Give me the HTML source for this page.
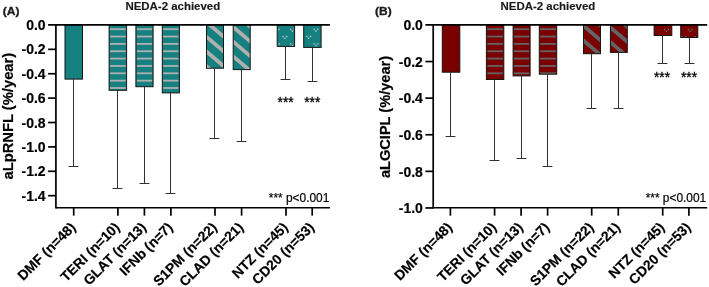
<!DOCTYPE html>
<html><head><meta charset="utf-8"><style>
html,body{margin:0;padding:0;background:#fff;}
svg{display:block;font-family:"Liberation Sans",Arial,sans-serif;}
</style></head><body>
<svg width="709" height="287" viewBox="0 0 709 287">
<rect width="709" height="287" fill="#fff"/>
<clipPath id="ca0"><rect x="65.00" y="24.95" width="17.50" height="54.15"/></clipPath>
<rect x="65.00" y="24.95" width="17.50" height="54.15" fill="#15807f"/>
<g clip-path="url(#ca0)"></g>
<rect x="65.00" y="24.95" width="17.50" height="54.15" fill="none" stroke="#151515" stroke-width="1.0"/>
<path d="M73.50 79.10V166.50M68.60 166.50H78.40" stroke="#303030" stroke-width="1.0" fill="none"/>
<clipPath id="ca1"><rect x="109.10" y="24.95" width="17.50" height="65.35"/></clipPath>
<rect x="109.10" y="24.95" width="17.50" height="65.35" fill="#15807f"/>
<g clip-path="url(#ca1)"><rect x="110.00" y="28.30" width="15.70" height="1.8" fill="#b0b0b0"/><rect x="110.00" y="35.65" width="15.70" height="1.8" fill="#b0b0b0"/><rect x="110.00" y="43.00" width="15.70" height="1.8" fill="#b0b0b0"/><rect x="110.00" y="50.35" width="15.70" height="1.8" fill="#b0b0b0"/><rect x="110.00" y="57.70" width="15.70" height="1.8" fill="#b0b0b0"/><rect x="110.00" y="65.05" width="15.70" height="1.8" fill="#b0b0b0"/><rect x="110.00" y="72.40" width="15.70" height="1.8" fill="#b0b0b0"/><rect x="110.00" y="79.75" width="15.70" height="1.8" fill="#b0b0b0"/><rect x="110.00" y="87.10" width="15.70" height="1.8" fill="#b0b0b0"/></g>
<rect x="109.10" y="24.95" width="17.50" height="65.35" fill="none" stroke="#151515" stroke-width="1.0"/>
<path d="M117.50 90.30V188.50M112.60 188.50H122.40" stroke="#303030" stroke-width="1.0" fill="none"/>
<clipPath id="ca2"><rect x="135.90" y="24.95" width="17.20" height="61.75"/></clipPath>
<rect x="135.90" y="24.95" width="17.20" height="61.75" fill="#15807f"/>
<g clip-path="url(#ca2)"><rect x="136.80" y="28.30" width="15.40" height="1.8" fill="#b0b0b0"/><rect x="136.80" y="35.65" width="15.40" height="1.8" fill="#b0b0b0"/><rect x="136.80" y="43.00" width="15.40" height="1.8" fill="#b0b0b0"/><rect x="136.80" y="50.35" width="15.40" height="1.8" fill="#b0b0b0"/><rect x="136.80" y="57.70" width="15.40" height="1.8" fill="#b0b0b0"/><rect x="136.80" y="65.05" width="15.40" height="1.8" fill="#b0b0b0"/><rect x="136.80" y="72.40" width="15.40" height="1.8" fill="#b0b0b0"/><rect x="136.80" y="79.75" width="15.40" height="1.8" fill="#b0b0b0"/></g>
<rect x="135.90" y="24.95" width="17.20" height="61.75" fill="none" stroke="#151515" stroke-width="1.0"/>
<path d="M144.50 86.70V183.50M139.60 183.50H149.40" stroke="#303030" stroke-width="1.0" fill="none"/>
<clipPath id="ca3"><rect x="162.30" y="24.95" width="17.10" height="67.95"/></clipPath>
<rect x="162.30" y="24.95" width="17.10" height="67.95" fill="#15807f"/>
<g clip-path="url(#ca3)"><rect x="163.20" y="28.30" width="15.30" height="1.8" fill="#b0b0b0"/><rect x="163.20" y="35.65" width="15.30" height="1.8" fill="#b0b0b0"/><rect x="163.20" y="43.00" width="15.30" height="1.8" fill="#b0b0b0"/><rect x="163.20" y="50.35" width="15.30" height="1.8" fill="#b0b0b0"/><rect x="163.20" y="57.70" width="15.30" height="1.8" fill="#b0b0b0"/><rect x="163.20" y="65.05" width="15.30" height="1.8" fill="#b0b0b0"/><rect x="163.20" y="72.40" width="15.30" height="1.8" fill="#b0b0b0"/><rect x="163.20" y="79.75" width="15.30" height="1.8" fill="#b0b0b0"/><rect x="163.20" y="87.10" width="15.30" height="1.8" fill="#b0b0b0"/></g>
<rect x="162.30" y="24.95" width="17.10" height="67.95" fill="none" stroke="#151515" stroke-width="1.0"/>
<path d="M170.50 92.90V193.50M165.60 193.50H175.40" stroke="#303030" stroke-width="1.0" fill="none"/>
<clipPath id="ca4"><rect x="206.50" y="24.95" width="17.00" height="43.25"/></clipPath>
<rect x="206.50" y="24.95" width="17.00" height="43.25" fill="#15807f"/>
<g clip-path="url(#ca4)"><polygon points="206.50,-24.40 223.50,-9.95 223.50,-5.05 206.50,-19.50" fill="#b0b0b0"/><polygon points="206.50,-9.70 223.50,4.75 223.50,9.65 206.50,-4.80" fill="#b0b0b0"/><polygon points="206.50,5.00 223.50,19.45 223.50,24.35 206.50,9.90" fill="#b0b0b0"/><polygon points="206.50,19.70 223.50,34.15 223.50,39.05 206.50,24.60" fill="#b0b0b0"/><polygon points="206.50,34.40 223.50,48.85 223.50,53.75 206.50,39.30" fill="#b0b0b0"/><polygon points="206.50,49.10 223.50,63.55 223.50,68.45 206.50,54.00" fill="#b0b0b0"/><polygon points="206.50,63.80 223.50,78.25 223.50,83.15 206.50,68.70" fill="#b0b0b0"/><polygon points="206.50,78.50 223.50,92.95 223.50,97.85 206.50,83.40" fill="#b0b0b0"/><polygon points="206.50,93.20 223.50,107.65 223.50,112.55 206.50,98.10" fill="#b0b0b0"/><polygon points="206.50,107.90 223.50,122.35 223.50,127.25 206.50,112.80" fill="#b0b0b0"/><polygon points="206.50,122.60 223.50,137.05 223.50,141.95 206.50,127.50" fill="#b0b0b0"/><polygon points="206.50,137.30 223.50,151.75 223.50,156.65 206.50,142.20" fill="#b0b0b0"/></g>
<rect x="206.50" y="24.95" width="17.00" height="43.25" fill="none" stroke="#151515" stroke-width="1.0"/>
<path d="M214.50 68.20V138.50M209.60 138.50H219.40" stroke="#303030" stroke-width="1.0" fill="none"/>
<clipPath id="ca5"><rect x="233.20" y="24.95" width="17.00" height="44.65"/></clipPath>
<rect x="233.20" y="24.95" width="17.00" height="44.65" fill="#15807f"/>
<g clip-path="url(#ca5)"><polygon points="233.20,-19.60 250.20,-5.15 250.20,-0.25 233.20,-14.70" fill="#b0b0b0"/><polygon points="233.20,-4.90 250.20,9.55 250.20,14.45 233.20,0.00" fill="#b0b0b0"/><polygon points="233.20,9.80 250.20,24.25 250.20,29.15 233.20,14.70" fill="#b0b0b0"/><polygon points="233.20,24.50 250.20,38.95 250.20,43.85 233.20,29.40" fill="#b0b0b0"/><polygon points="233.20,39.20 250.20,53.65 250.20,58.55 233.20,44.10" fill="#b0b0b0"/><polygon points="233.20,53.90 250.20,68.35 250.20,73.25 233.20,58.80" fill="#b0b0b0"/><polygon points="233.20,68.60 250.20,83.05 250.20,87.95 233.20,73.50" fill="#b0b0b0"/><polygon points="233.20,83.30 250.20,97.75 250.20,102.65 233.20,88.20" fill="#b0b0b0"/><polygon points="233.20,98.00 250.20,112.45 250.20,117.35 233.20,102.90" fill="#b0b0b0"/><polygon points="233.20,112.70 250.20,127.15 250.20,132.05 233.20,117.60" fill="#b0b0b0"/><polygon points="233.20,127.40 250.20,141.85 250.20,146.75 233.20,132.30" fill="#b0b0b0"/><polygon points="233.20,142.10 250.20,156.55 250.20,161.45 233.20,147.00" fill="#b0b0b0"/></g>
<rect x="233.20" y="24.95" width="17.00" height="44.65" fill="none" stroke="#151515" stroke-width="1.0"/>
<path d="M241.50 69.60V141.50M236.60 141.50H246.40" stroke="#303030" stroke-width="1.0" fill="none"/>
<clipPath id="ca6"><rect x="277.20" y="24.95" width="17.40" height="21.45"/></clipPath>
<rect x="277.20" y="24.95" width="17.40" height="21.45" fill="#15807f"/>
<g clip-path="url(#ca6)"><rect x="274.85" y="28.65" width="1.1" height="1.1" fill="#e4e4e4" opacity="1"/><rect x="276.75" y="30.65" width="1.1" height="1.1" fill="#e4e4e4" opacity="1"/><rect x="278.65" y="28.65" width="1.1" height="1.1" fill="#e4e4e4" opacity="1"/><rect x="275.80" y="29.65" width="1.1" height="1.1" fill="#e4e4e4" opacity="0.3"/><rect x="277.70" y="29.65" width="1.1" height="1.1" fill="#e4e4e4" opacity="0.3"/><rect x="289.95" y="28.65" width="1.1" height="1.1" fill="#e4e4e4" opacity="1"/><rect x="291.85" y="30.65" width="1.1" height="1.1" fill="#e4e4e4" opacity="1"/><rect x="293.75" y="28.65" width="1.1" height="1.1" fill="#e4e4e4" opacity="1"/><rect x="290.90" y="29.65" width="1.1" height="1.1" fill="#e4e4e4" opacity="0.3"/><rect x="292.80" y="29.65" width="1.1" height="1.1" fill="#e4e4e4" opacity="0.3"/><rect x="282.45" y="35.95" width="1.1" height="1.1" fill="#e4e4e4" opacity="1"/><rect x="284.35" y="37.95" width="1.1" height="1.1" fill="#e4e4e4" opacity="1"/><rect x="286.25" y="35.95" width="1.1" height="1.1" fill="#e4e4e4" opacity="1"/><rect x="283.40" y="36.95" width="1.1" height="1.1" fill="#e4e4e4" opacity="0.3"/><rect x="285.30" y="36.95" width="1.1" height="1.1" fill="#e4e4e4" opacity="0.3"/><rect x="274.85" y="43.25" width="1.1" height="1.1" fill="#e4e4e4" opacity="1"/><rect x="276.75" y="45.25" width="1.1" height="1.1" fill="#e4e4e4" opacity="1"/><rect x="278.65" y="43.25" width="1.1" height="1.1" fill="#e4e4e4" opacity="1"/><rect x="275.80" y="44.25" width="1.1" height="1.1" fill="#e4e4e4" opacity="0.3"/><rect x="277.70" y="44.25" width="1.1" height="1.1" fill="#e4e4e4" opacity="0.3"/><rect x="289.95" y="43.25" width="1.1" height="1.1" fill="#e4e4e4" opacity="1"/><rect x="291.85" y="45.25" width="1.1" height="1.1" fill="#e4e4e4" opacity="1"/><rect x="293.75" y="43.25" width="1.1" height="1.1" fill="#e4e4e4" opacity="1"/><rect x="290.90" y="44.25" width="1.1" height="1.1" fill="#e4e4e4" opacity="0.3"/><rect x="292.80" y="44.25" width="1.1" height="1.1" fill="#e4e4e4" opacity="0.3"/></g>
<rect x="277.20" y="24.95" width="17.40" height="21.45" fill="none" stroke="#151515" stroke-width="1.0"/>
<path d="M285.50 46.40V79.50M280.60 79.50H290.40" stroke="#303030" stroke-width="1.0" fill="none"/>
<clipPath id="ca7"><rect x="303.70" y="24.95" width="17.40" height="22.45"/></clipPath>
<rect x="303.70" y="24.95" width="17.40" height="22.45" fill="#15807f"/>
<g clip-path="url(#ca7)"><rect x="313.45" y="28.65" width="1.1" height="1.1" fill="#e4e4e4" opacity="1"/><rect x="315.35" y="30.65" width="1.1" height="1.1" fill="#e4e4e4" opacity="1"/><rect x="317.25" y="28.65" width="1.1" height="1.1" fill="#e4e4e4" opacity="1"/><rect x="314.40" y="29.65" width="1.1" height="1.1" fill="#e4e4e4" opacity="0.3"/><rect x="316.30" y="29.65" width="1.1" height="1.1" fill="#e4e4e4" opacity="0.3"/><rect x="306.30" y="35.75" width="1.1" height="1.1" fill="#e4e4e4" opacity="1"/><rect x="308.20" y="37.75" width="1.1" height="1.1" fill="#e4e4e4" opacity="1"/><rect x="310.10" y="35.75" width="1.1" height="1.1" fill="#e4e4e4" opacity="1"/><rect x="307.25" y="36.75" width="1.1" height="1.1" fill="#e4e4e4" opacity="0.3"/><rect x="309.15" y="36.75" width="1.1" height="1.1" fill="#e4e4e4" opacity="0.3"/><rect x="313.45" y="43.25" width="1.1" height="1.1" fill="#e4e4e4" opacity="1"/><rect x="315.35" y="45.25" width="1.1" height="1.1" fill="#e4e4e4" opacity="1"/><rect x="317.25" y="43.25" width="1.1" height="1.1" fill="#e4e4e4" opacity="1"/><rect x="314.40" y="44.25" width="1.1" height="1.1" fill="#e4e4e4" opacity="0.3"/><rect x="316.30" y="44.25" width="1.1" height="1.1" fill="#e4e4e4" opacity="0.3"/></g>
<rect x="303.70" y="24.95" width="17.40" height="22.45" fill="none" stroke="#151515" stroke-width="1.0"/>
<path d="M312.50 47.40V81.50M307.60 81.50H317.40" stroke="#303030" stroke-width="1.0" fill="none"/><path d="M55.90 24.10V208.60" stroke="#000" stroke-width="1.7" fill="none"/>
<path d="M48.10 24.95H329.90" stroke="#000" stroke-width="1.7" fill="none"/>
<path d="M55.90 207.75H329.90" stroke="#000" stroke-width="1.7" fill="none"/>
<path d="M73.70 207.75V215.65" stroke="#000" stroke-width="1.7" fill="none"/>
<path d="M117.90 207.75V215.65" stroke="#000" stroke-width="1.7" fill="none"/>
<path d="M144.40 207.75V215.65" stroke="#000" stroke-width="1.7" fill="none"/>
<path d="M170.90 207.75V215.65" stroke="#000" stroke-width="1.7" fill="none"/>
<path d="M215.00 207.75V215.65" stroke="#000" stroke-width="1.7" fill="none"/>
<path d="M241.60 207.75V215.65" stroke="#000" stroke-width="1.7" fill="none"/>
<path d="M286.00 207.75V215.65" stroke="#000" stroke-width="1.7" fill="none"/>
<path d="M312.20 207.75V215.65" stroke="#000" stroke-width="1.7" fill="none"/>
<text transform="translate(45.60,30.10) scale(1,1.06)" text-anchor="end" font-size="14" font-weight="bold" stroke="#000" stroke-width="0.2">0.0</text>
<path d="M48.10 49.34H55.90" stroke="#000" stroke-width="1.7" fill="none"/>
<text transform="translate(45.60,54.49) scale(1,1.06)" text-anchor="end" font-size="14" font-weight="bold" stroke="#000" stroke-width="0.2">-0.2</text>
<path d="M48.10 73.73H55.90" stroke="#000" stroke-width="1.7" fill="none"/>
<text transform="translate(45.60,78.88) scale(1,1.06)" text-anchor="end" font-size="14" font-weight="bold" stroke="#000" stroke-width="0.2">-0.4</text>
<path d="M48.10 98.12H55.90" stroke="#000" stroke-width="1.7" fill="none"/>
<text transform="translate(45.60,103.27) scale(1,1.06)" text-anchor="end" font-size="14" font-weight="bold" stroke="#000" stroke-width="0.2">-0.6</text>
<path d="M48.10 122.51H55.90" stroke="#000" stroke-width="1.7" fill="none"/>
<text transform="translate(45.60,127.66) scale(1,1.06)" text-anchor="end" font-size="14" font-weight="bold" stroke="#000" stroke-width="0.2">-0.8</text>
<path d="M48.10 146.90H55.90" stroke="#000" stroke-width="1.7" fill="none"/>
<text transform="translate(45.60,152.05) scale(1,1.06)" text-anchor="end" font-size="14" font-weight="bold" stroke="#000" stroke-width="0.2">-1.0</text>
<path d="M48.10 171.29H55.90" stroke="#000" stroke-width="1.7" fill="none"/>
<text transform="translate(45.60,176.44) scale(1,1.06)" text-anchor="end" font-size="14" font-weight="bold" stroke="#000" stroke-width="0.2">-1.2</text>
<path d="M48.10 195.68H55.90" stroke="#000" stroke-width="1.7" fill="none"/>
<text transform="translate(45.60,200.83) scale(1,1.06)" text-anchor="end" font-size="14" font-weight="bold" stroke="#000" stroke-width="0.2">-1.4</text>
<text transform="translate(76.40,228.15) rotate(-45)" text-anchor="end" font-size="13.9" font-weight="bold" stroke="#000" stroke-width="0.2">DMF (n=48)</text>
<text transform="translate(120.60,228.15) rotate(-45)" text-anchor="end" font-size="13.9" font-weight="bold" stroke="#000" stroke-width="0.2">TERI (n=10)</text>
<text transform="translate(147.10,228.15) rotate(-45)" text-anchor="end" font-size="13.9" font-weight="bold" stroke="#000" stroke-width="0.2">GLAT (n=13)</text>
<text transform="translate(173.60,228.15) rotate(-45)" text-anchor="end" font-size="13.9" font-weight="bold" stroke="#000" stroke-width="0.2">IFNb (n=7)</text>
<text transform="translate(217.70,228.15) rotate(-45)" text-anchor="end" font-size="13.9" font-weight="bold" stroke="#000" stroke-width="0.2">S1PM (n=22)</text>
<text transform="translate(244.30,228.15) rotate(-45)" text-anchor="end" font-size="13.9" font-weight="bold" stroke="#000" stroke-width="0.2">CLAD (n=21)</text>
<text transform="translate(288.70,228.15) rotate(-45)" text-anchor="end" font-size="13.9" font-weight="bold" stroke="#000" stroke-width="0.2">NTZ (n=45)</text>
<text transform="translate(314.90,228.15) rotate(-45)" text-anchor="end" font-size="13.9" font-weight="bold" stroke="#000" stroke-width="0.2">CD20 (n=53)</text>
<text x="172.80" y="9.9" text-anchor="middle" font-size="11.45" font-weight="bold" fill="#1a1a1a" stroke="#1a1a1a" stroke-width="0.15">NEDA-2 achieved</text>
<text transform="translate(2.8,14.6) scale(1.1,1)" font-size="10.9" font-weight="bold" fill="#1a1a1a" stroke="#1a1a1a" stroke-width="0.3">(A)</text>
<text transform="translate(13.20,116.20) rotate(-90)" text-anchor="middle" font-size="14.75" font-weight="bold" stroke="#000" stroke-width="0.2">aLpRNFL (%/year)</text>
<clipPath id="cb0"><rect x="442.30" y="24.95" width="17.50" height="47.25"/></clipPath>
<rect x="442.30" y="24.95" width="17.50" height="47.25" fill="#7a0000"/>
<g clip-path="url(#cb0)"></g>
<rect x="442.30" y="24.95" width="17.50" height="47.25" fill="none" stroke="#151515" stroke-width="1.0"/>
<path d="M450.50 72.20V136.50M445.60 136.50H455.40" stroke="#303030" stroke-width="1.0" fill="none"/>
<clipPath id="cb1"><rect x="486.40" y="24.95" width="17.40" height="54.55"/></clipPath>
<rect x="486.40" y="24.95" width="17.40" height="54.55" fill="#7a0000"/>
<g clip-path="url(#cb1)"><rect x="487.30" y="28.30" width="15.60" height="1.8" fill="#646464"/><rect x="487.30" y="35.65" width="15.60" height="1.8" fill="#646464"/><rect x="487.30" y="43.00" width="15.60" height="1.8" fill="#646464"/><rect x="487.30" y="50.35" width="15.60" height="1.8" fill="#646464"/><rect x="487.30" y="57.70" width="15.60" height="1.8" fill="#646464"/><rect x="487.30" y="65.05" width="15.60" height="1.8" fill="#646464"/><rect x="487.30" y="72.40" width="15.60" height="1.8" fill="#646464"/></g>
<rect x="486.40" y="24.95" width="17.40" height="54.55" fill="none" stroke="#151515" stroke-width="1.0"/>
<path d="M494.50 79.50V160.50M489.60 160.50H499.40" stroke="#303030" stroke-width="1.0" fill="none"/>
<clipPath id="cb2"><rect x="513.10" y="24.95" width="17.00" height="50.95"/></clipPath>
<rect x="513.10" y="24.95" width="17.00" height="50.95" fill="#7a0000"/>
<g clip-path="url(#cb2)"><rect x="514.00" y="28.30" width="15.20" height="1.8" fill="#646464"/><rect x="514.00" y="35.65" width="15.20" height="1.8" fill="#646464"/><rect x="514.00" y="43.00" width="15.20" height="1.8" fill="#646464"/><rect x="514.00" y="50.35" width="15.20" height="1.8" fill="#646464"/><rect x="514.00" y="57.70" width="15.20" height="1.8" fill="#646464"/><rect x="514.00" y="65.05" width="15.20" height="1.8" fill="#646464"/><rect x="514.00" y="72.40" width="15.20" height="1.8" fill="#646464"/></g>
<rect x="513.10" y="24.95" width="17.00" height="50.95" fill="none" stroke="#151515" stroke-width="1.0"/>
<path d="M521.50 75.90V158.50M516.60 158.50H526.40" stroke="#303030" stroke-width="1.0" fill="none"/>
<clipPath id="cb3"><rect x="539.30" y="24.95" width="17.40" height="49.25"/></clipPath>
<rect x="539.30" y="24.95" width="17.40" height="49.25" fill="#7a0000"/>
<g clip-path="url(#cb3)"><rect x="540.20" y="28.30" width="15.60" height="1.8" fill="#646464"/><rect x="540.20" y="35.65" width="15.60" height="1.8" fill="#646464"/><rect x="540.20" y="43.00" width="15.60" height="1.8" fill="#646464"/><rect x="540.20" y="50.35" width="15.60" height="1.8" fill="#646464"/><rect x="540.20" y="57.70" width="15.60" height="1.8" fill="#646464"/><rect x="540.20" y="65.05" width="15.60" height="1.8" fill="#646464"/><rect x="540.20" y="72.40" width="15.60" height="1.8" fill="#646464"/></g>
<rect x="539.30" y="24.95" width="17.40" height="49.25" fill="none" stroke="#151515" stroke-width="1.0"/>
<path d="M547.50 74.20V166.50M542.60 166.50H552.40" stroke="#303030" stroke-width="1.0" fill="none"/>
<clipPath id="cb4"><rect x="583.50" y="24.95" width="17.00" height="28.75"/></clipPath>
<rect x="583.50" y="24.95" width="17.00" height="28.75" fill="#7a0000"/>
<g clip-path="url(#cb4)"><polygon points="583.50,-20.70 600.50,-6.25 600.50,-1.35 583.50,-15.80" fill="#646464"/><polygon points="583.50,-6.00 600.50,8.45 600.50,13.35 583.50,-1.10" fill="#646464"/><polygon points="583.50,8.70 600.50,23.15 600.50,28.05 583.50,13.60" fill="#646464"/><polygon points="583.50,23.40 600.50,37.85 600.50,42.75 583.50,28.30" fill="#646464"/><polygon points="583.50,38.10 600.50,52.55 600.50,57.45 583.50,43.00" fill="#646464"/><polygon points="583.50,52.80 600.50,67.25 600.50,72.15 583.50,57.70" fill="#646464"/><polygon points="583.50,67.50 600.50,81.95 600.50,86.85 583.50,72.40" fill="#646464"/><polygon points="583.50,82.20 600.50,96.65 600.50,101.55 583.50,87.10" fill="#646464"/><polygon points="583.50,96.90 600.50,111.35 600.50,116.25 583.50,101.80" fill="#646464"/><polygon points="583.50,111.60 600.50,126.05 600.50,130.95 583.50,116.50" fill="#646464"/><polygon points="583.50,126.30 600.50,140.75 600.50,145.65 583.50,131.20" fill="#646464"/><polygon points="583.50,141.00 600.50,155.45 600.50,160.35 583.50,145.90" fill="#646464"/></g>
<rect x="583.50" y="24.95" width="17.00" height="28.75" fill="none" stroke="#151515" stroke-width="1.0"/>
<path d="M591.50 53.70V108.50M586.60 108.50H596.40" stroke="#303030" stroke-width="1.0" fill="none"/>
<clipPath id="cb5"><rect x="610.40" y="24.95" width="16.90" height="27.45"/></clipPath>
<rect x="610.40" y="24.95" width="16.90" height="27.45" fill="#7a0000"/>
<g clip-path="url(#cb5)"><polygon points="610.40,-19.10 627.30,-4.74 627.30,0.16 610.40,-14.20" fill="#646464"/><polygon points="610.40,-4.40 627.30,9.96 627.30,14.86 610.40,0.50" fill="#646464"/><polygon points="610.40,10.30 627.30,24.66 627.30,29.56 610.40,15.20" fill="#646464"/><polygon points="610.40,25.00 627.30,39.36 627.30,44.26 610.40,29.90" fill="#646464"/><polygon points="610.40,39.70 627.30,54.06 627.30,58.96 610.40,44.60" fill="#646464"/><polygon points="610.40,54.40 627.30,68.76 627.30,73.66 610.40,59.30" fill="#646464"/><polygon points="610.40,69.10 627.30,83.46 627.30,88.36 610.40,74.00" fill="#646464"/><polygon points="610.40,83.80 627.30,98.16 627.30,103.06 610.40,88.70" fill="#646464"/><polygon points="610.40,98.50 627.30,112.86 627.30,117.76 610.40,103.40" fill="#646464"/><polygon points="610.40,113.20 627.30,127.56 627.30,132.46 610.40,118.10" fill="#646464"/><polygon points="610.40,127.90 627.30,142.26 627.30,147.16 610.40,132.80" fill="#646464"/><polygon points="610.40,142.60 627.30,156.96 627.30,161.86 610.40,147.50" fill="#646464"/></g>
<rect x="610.40" y="24.95" width="16.90" height="27.45" fill="none" stroke="#151515" stroke-width="1.0"/>
<path d="M618.50 52.40V108.50M613.60 108.50H623.40" stroke="#303030" stroke-width="1.0" fill="none"/>
<clipPath id="cb6"><rect x="654.10" y="24.95" width="17.70" height="10.55"/></clipPath>
<rect x="654.10" y="24.95" width="17.70" height="10.55" fill="#7a0000"/>
<g clip-path="url(#cb6)"><rect x="664.05" y="28.85" width="1.1" height="1.1" fill="#5f8c8c" opacity="1"/><rect x="665.95" y="30.85" width="1.1" height="1.1" fill="#5f8c8c" opacity="1"/><rect x="667.85" y="28.85" width="1.1" height="1.1" fill="#5f8c8c" opacity="1"/><rect x="665.00" y="29.85" width="1.1" height="1.1" fill="#5f8c8c" opacity="0.3"/><rect x="666.90" y="29.85" width="1.1" height="1.1" fill="#5f8c8c" opacity="0.3"/></g>
<rect x="654.10" y="24.95" width="17.70" height="10.55" fill="none" stroke="#151515" stroke-width="1.0"/>
<path d="M662.50 35.50V63.50M657.60 63.50H667.40" stroke="#303030" stroke-width="1.0" fill="none"/>
<clipPath id="cb7"><rect x="680.70" y="24.95" width="17.10" height="12.55"/></clipPath>
<rect x="680.70" y="24.95" width="17.10" height="12.55" fill="#7a0000"/>
<g clip-path="url(#cb7)"><rect x="687.75" y="28.85" width="1.1" height="1.1" fill="#5f8c8c" opacity="1"/><rect x="689.65" y="30.85" width="1.1" height="1.1" fill="#5f8c8c" opacity="1"/><rect x="691.55" y="28.85" width="1.1" height="1.1" fill="#5f8c8c" opacity="1"/><rect x="688.70" y="29.85" width="1.1" height="1.1" fill="#5f8c8c" opacity="0.3"/><rect x="690.60" y="29.85" width="1.1" height="1.1" fill="#5f8c8c" opacity="0.3"/><rect x="681.15" y="36.05" width="1.1" height="1.1" fill="#5f8c8c" opacity="1"/><rect x="683.05" y="38.05" width="1.1" height="1.1" fill="#5f8c8c" opacity="1"/><rect x="684.95" y="36.05" width="1.1" height="1.1" fill="#5f8c8c" opacity="1"/><rect x="682.10" y="37.05" width="1.1" height="1.1" fill="#5f8c8c" opacity="0.3"/><rect x="684.00" y="37.05" width="1.1" height="1.1" fill="#5f8c8c" opacity="0.3"/><rect x="694.55" y="36.05" width="1.1" height="1.1" fill="#5f8c8c" opacity="1"/><rect x="696.45" y="38.05" width="1.1" height="1.1" fill="#5f8c8c" opacity="1"/><rect x="698.35" y="36.05" width="1.1" height="1.1" fill="#5f8c8c" opacity="1"/><rect x="695.50" y="37.05" width="1.1" height="1.1" fill="#5f8c8c" opacity="0.3"/><rect x="697.40" y="37.05" width="1.1" height="1.1" fill="#5f8c8c" opacity="0.3"/></g>
<rect x="680.70" y="24.95" width="17.10" height="12.55" fill="none" stroke="#151515" stroke-width="1.0"/>
<path d="M689.50 37.50V63.50M684.60 63.50H694.40" stroke="#303030" stroke-width="1.0" fill="none"/><path d="M433.20 24.10V208.60" stroke="#000" stroke-width="1.7" fill="none"/>
<path d="M425.40 24.95H707.20" stroke="#000" stroke-width="1.7" fill="none"/>
<path d="M433.20 207.75H707.20" stroke="#000" stroke-width="1.7" fill="none"/>
<path d="M450.40 207.75V215.65" stroke="#000" stroke-width="1.7" fill="none"/>
<path d="M494.60 207.75V215.65" stroke="#000" stroke-width="1.7" fill="none"/>
<path d="M521.10 207.75V215.65" stroke="#000" stroke-width="1.7" fill="none"/>
<path d="M547.60 207.75V215.65" stroke="#000" stroke-width="1.7" fill="none"/>
<path d="M591.70 207.75V215.65" stroke="#000" stroke-width="1.7" fill="none"/>
<path d="M618.30 207.75V215.65" stroke="#000" stroke-width="1.7" fill="none"/>
<path d="M662.70 207.75V215.65" stroke="#000" stroke-width="1.7" fill="none"/>
<path d="M688.90 207.75V215.65" stroke="#000" stroke-width="1.7" fill="none"/>
<text transform="translate(422.90,30.10) scale(1,1.06)" text-anchor="end" font-size="14" font-weight="bold" stroke="#000" stroke-width="0.2">0.0</text>
<path d="M425.40 61.55H433.20" stroke="#000" stroke-width="1.7" fill="none"/>
<text transform="translate(422.90,66.70) scale(1,1.06)" text-anchor="end" font-size="14" font-weight="bold" stroke="#000" stroke-width="0.2">-0.2</text>
<path d="M425.40 98.15H433.20" stroke="#000" stroke-width="1.7" fill="none"/>
<text transform="translate(422.90,103.30) scale(1,1.06)" text-anchor="end" font-size="14" font-weight="bold" stroke="#000" stroke-width="0.2">-0.4</text>
<path d="M425.40 134.75H433.20" stroke="#000" stroke-width="1.7" fill="none"/>
<text transform="translate(422.90,139.90) scale(1,1.06)" text-anchor="end" font-size="14" font-weight="bold" stroke="#000" stroke-width="0.2">-0.6</text>
<path d="M425.40 171.35H433.20" stroke="#000" stroke-width="1.7" fill="none"/>
<text transform="translate(422.90,176.50) scale(1,1.06)" text-anchor="end" font-size="14" font-weight="bold" stroke="#000" stroke-width="0.2">-0.8</text>
<path d="M425.40 207.95H433.20" stroke="#000" stroke-width="1.7" fill="none"/>
<text transform="translate(422.90,213.10) scale(1,1.06)" text-anchor="end" font-size="14" font-weight="bold" stroke="#000" stroke-width="0.2">-1.0</text>
<text transform="translate(453.10,228.15) rotate(-45)" text-anchor="end" font-size="13.9" font-weight="bold" stroke="#000" stroke-width="0.2">DMF (n=48)</text>
<text transform="translate(497.30,228.15) rotate(-45)" text-anchor="end" font-size="13.9" font-weight="bold" stroke="#000" stroke-width="0.2">TERI (n=10)</text>
<text transform="translate(523.80,228.15) rotate(-45)" text-anchor="end" font-size="13.9" font-weight="bold" stroke="#000" stroke-width="0.2">GLAT (n=13)</text>
<text transform="translate(550.30,228.15) rotate(-45)" text-anchor="end" font-size="13.9" font-weight="bold" stroke="#000" stroke-width="0.2">IFNb (n=7)</text>
<text transform="translate(594.40,228.15) rotate(-45)" text-anchor="end" font-size="13.9" font-weight="bold" stroke="#000" stroke-width="0.2">S1PM (n=22)</text>
<text transform="translate(621.00,228.15) rotate(-45)" text-anchor="end" font-size="13.9" font-weight="bold" stroke="#000" stroke-width="0.2">CLAD (n=21)</text>
<text transform="translate(665.40,228.15) rotate(-45)" text-anchor="end" font-size="13.9" font-weight="bold" stroke="#000" stroke-width="0.2">NTZ (n=45)</text>
<text transform="translate(691.60,228.15) rotate(-45)" text-anchor="end" font-size="13.9" font-weight="bold" stroke="#000" stroke-width="0.2">CD20 (n=53)</text>
<text x="547.90" y="9.9" text-anchor="middle" font-size="11.45" font-weight="bold" fill="#1a1a1a" stroke="#1a1a1a" stroke-width="0.15">NEDA-2 achieved</text>
<text transform="translate(375.0,14.6) scale(1.1,1)" font-size="10.9" font-weight="bold" fill="#1a1a1a" stroke="#1a1a1a" stroke-width="0.3">(B)</text>
<text transform="translate(389.70,117.00) rotate(-90)" text-anchor="middle" font-size="14.6" font-weight="bold" stroke="#000" stroke-width="0.2">aLGCIPL (%/year)</text>

<text x="277.6" y="106.9" font-size="13.8" stroke="#000" stroke-width="0.3">***</text>
<text x="304.2" y="106.9" font-size="13.8" stroke="#000" stroke-width="0.3">***</text>
<text x="268.8" y="202.3" font-size="11.9" stroke="#000" stroke-width="0.2">*** p&lt;0.001</text>
<text x="654.0" y="82.0" font-size="13.8" stroke="#000" stroke-width="0.3">***</text>
<text x="681.0" y="82.0" font-size="13.8" stroke="#000" stroke-width="0.3">***</text>
<text x="645.7" y="202.3" font-size="11.9" stroke="#000" stroke-width="0.2">*** p&lt;0.001</text>

</svg></body></html>
